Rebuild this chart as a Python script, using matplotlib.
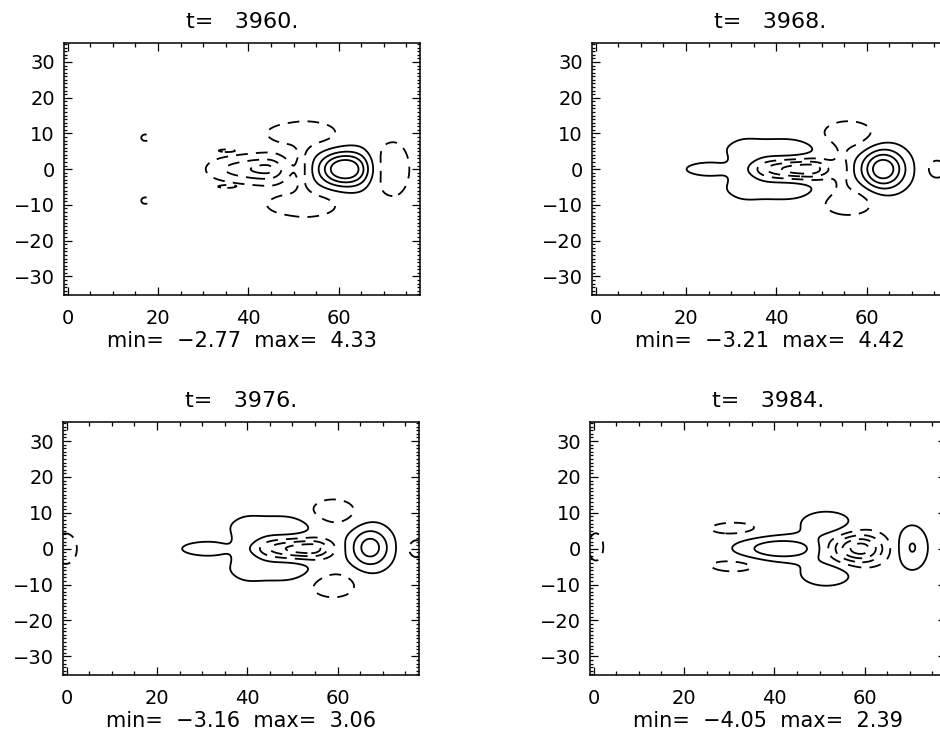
import numpy as np
import matplotlib
matplotlib.use("Agg")
import matplotlib.pyplot as plt
from matplotlib.ticker import MultipleLocator

# =============================================================================
# DATOS — campo leído de la figura como suma de "manchas" gaussianas
# cada mancha: (x0, y0, ancho_izq, ancho_der, ancho_y, amplitud)
# =============================================================================

TIEMPOS = ["3960.", "3968.", "3976.", "3984."]
MINIMOS = [-2.77, -3.21, -3.16, -4.05]
MAXIMOS = [4.33, 4.42, 3.06, 2.39]
NIVELES = [-3.5, -2.5, -1.5, -0.5, 0.5, 1.5, 2.5, 3.5]

X_TICKS = [0, 20, 40, 60]
Y_TICKS = [-30, -20, -10, 0, 10, 20, 30]

MANCHAS_3960 = [
    (60.8, 0.0, 3.6, 3.6, 3.2, 4.45),
    (64.5, 0.0, 2.5, 2.0, 4.0, 0.9),
    (72.0, 0.0, 3.5, 2.9, 6.0, -1.1),
    (53.0, 10.0, 7.5, 5.5, 2.8, -1.0),
    (53.0, -10.0, 7.5, 5.5, 2.8, -1.0),
    (52.0, 0.0, 1.2, 1.5, 5.0, -0.8),
    (44.0, 0.0, 5.5, 3.0, 2.4, -2.77),
    (35.0, 0.0, 3.5, 3.5, 2.2, -0.8),
    (35.0, 5.2, 1.8, 1.8, 0.35, -0.6),
    (35.0, -4.9, 1.8, 1.8, 0.35, -0.6),
    (17.2, 8.8, 1.0, 1.0, 1.0, -0.75),
    (17.2, -8.8, 1.0, 1.0, 1.0, -0.75),
]

MANCHAS_3968 = [
    (63.6, 0.0, 3.3, 3.4, 3.9, 4.42),
    (75.5, 0.0, 2.0, 2.0, 2.5, -0.8),
    (56.0, 9.4, 5.0, 5.0, 3.4, -1.0),
    (56.0, -8.8, 5.0, 5.0, 3.4, -1.0),
    (54.5, 0.0, 1.2, 1.2, 4.0, -0.8),
    (25.5, 0.0, 5.0, 5.0, 1.7, 0.9),
    (33.0, 0.0, 2.2, 2.5, 4.5, 1.1),
    (42.0, 5.6, 9.0, 6.0, 2.3, 1.1),
    (42.0, -5.6, 9.0, 6.0, 2.3, 1.1),
    (47.0, 0.0, 8.0, 3.5, 1.8, -3.4),
]

MANCHAS_3976 = [
    (67.2, 0.3, 3.1, 3.1, 3.9, 3.06),
    (77.5, 0.0, 2.0, 2.0, 2.5, -0.8),
    (-0.2, 0.0, 2.1, 2.1, 3.6, -1.0),
    (59.0, 10.2, 4.2, 4.2, 3.0, -1.0),
    (59.0, -10.0, 4.2, 4.2, 3.0, -1.0),
    (31.5, 0.0, 5.5, 5.0, 1.8, 0.9),
    (40.0, 0.0, 2.2, 2.5, 4.8, 1.1),
    (48.0, 6.1, 8.0, 5.5, 2.4, 1.1),
    (48.0, -5.9, 8.0, 5.5, 2.4, 1.1),
    (54.0, 0.0, 8.0, 3.0, 1.8, -3.3),
]

MANCHAS_3984 = [
    (70.5, 0.3, 2.3, 2.3, 4.1, 1.58),
    (0.5, 0.5, 1.5, 1.5, 3.5, -0.9),
    (41.5, 0.0, 6.2, 6.2, 2.2, 2.39),
    (51.5, 6.8, 4.5, 4.5, 2.8, 1.1),
    (51.5, -6.8, 4.5, 4.5, 2.8, 1.1),
    (59.0, 0.0, 4.5, 3.5, 2.8, -4.1),
    (31.0, 5.6, 5.2, 5.2, 1.7, -0.8),
    (31.0, -4.7, 5.2, 5.2, 1.7, -0.8),
]

MANCHAS = [MANCHAS_3960, MANCHAS_3968, MANCHAS_3976, MANCHAS_3984]

# =============================================================================
# FIGURA
# =============================================================================

X_LIM = (-0.8, 78.0)
Y_LIM = (-35.2, 35.3)

# posición de cada panel en fracción de figura (izq, abajo, ancho, alto)
POSICIONES = [
    (0.0681, 0.6014, 0.3787, 0.3405),
    (0.6298, 0.6014, 0.3787, 0.3405),
    (0.0670, 0.0878, 0.3787, 0.3419),
    (0.6277, 0.0878, 0.3787, 0.3419),
]

plt.rcParams["font.family"] = ["DejaVu Sans"]
plt.rcParams["lines.dashed_pattern"] = [6.5, 4.5]


def campo(X, Y, manchas):
    Z = np.zeros_like(X)
    for x0, y0, sxl, sxr, sy, amp in manchas:
        sx = np.where(X < x0, sxl, sxr)
        Z += amp * np.exp(-0.5 * ((X - x0) / sx) ** 2 - 0.5 * ((Y - y0) / sy) ** 2)
    return Z


def main():
    xs = np.linspace(X_LIM[0], X_LIM[1], 400)
    ys = np.linspace(Y_LIM[0], Y_LIM[1], 360)
    X, Y = np.meshgrid(xs, ys)

    fig = plt.figure(figsize=(9.4, 7.4), dpi=100)

    for i in range(4):
        ax = fig.add_axes(POSICIONES[i])
        Z = campo(X, Y, MANCHAS[i])
        estilos = ["dashed" if n < 0 else "solid" for n in NIVELES]
        ax.contour(X, Y, Z, levels=NIVELES, colors="k",
                   linewidths=1.3, linestyles=estilos)

        ax.set_xlim(*X_LIM)
        ax.set_ylim(*Y_LIM)
        ax.set_xticks(X_TICKS)
        ax.set_yticks(Y_TICKS)
        ax.xaxis.set_minor_locator(MultipleLocator(5))
        ax.yaxis.set_minor_locator(MultipleLocator(1))
        ax.tick_params(which="both", direction="in", top=True, right=True,
                       width=0.9, labelsize=14, colors="k")
        ax.tick_params(axis="x", which="major", length=5.5, pad=10)
        ax.tick_params(axis="x", which="minor", length=3)
        ax.tick_params(axis="y", which="major", length=5.5, pad=6.5)
        ax.tick_params(axis="y", which="minor", length=2.5)
        for s in ax.spines.values():
            s.set_linewidth(1.1)

        ax.set_title("t=   " + TIEMPOS[i], fontsize=16, pad=11)
        ax.set_xlabel("min=  {:.2f}  max=  {:.2f}".format(MINIMOS[i], MAXIMOS[i]).replace("-", "\u2212"),
                      fontsize=15, labelpad=2)

    fig.savefig("out.png", dpi=100)


if __name__ == "__main__":
    main()
